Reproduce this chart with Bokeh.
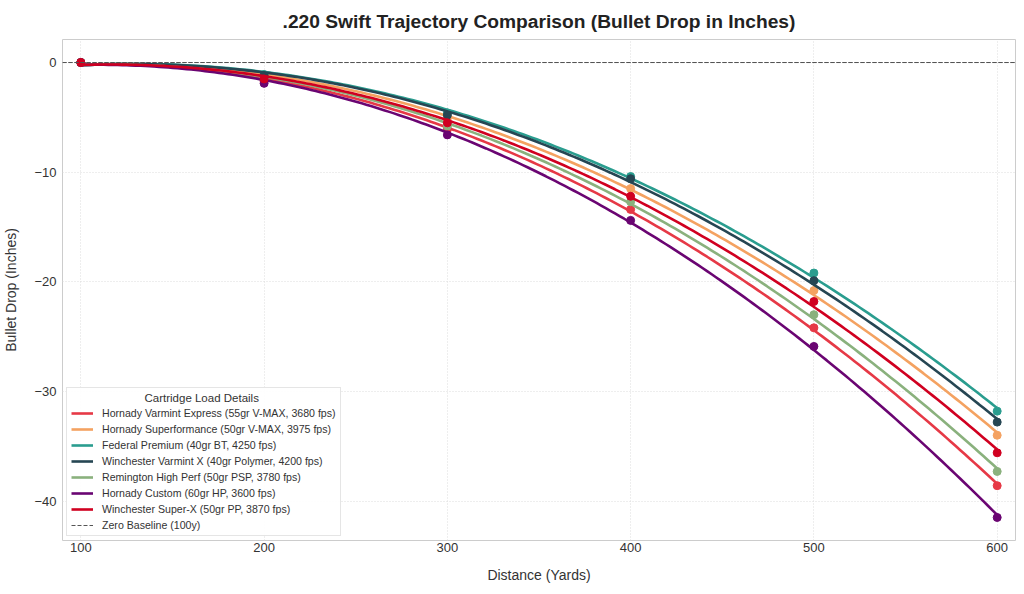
import numpy as np
from bokeh.plotting import figure
from bokeh.models import Range1d, Span, Legend, LegendItem, CustomJSTickFormatter, FixedTicker
from bokeh.embed import file_html
from bokeh.resources import INLINE

# ---- data ----
distances = [100, 200, 300, 400, 500, 600]
loads = [
    "Hornady Varmint Express (55gr V-MAX, 3680 fps)",
    "Hornady Superformance (50gr V-MAX, 3975 fps)",
    "Federal Premium (40gr BT, 4250 fps)",
    "Winchester Varmint X (40gr Polymer, 4200 fps)",
    "Remington High Perf (50gr PSP, 3780 fps)",
    "Hornady Custom (60gr HP, 3600 fps)",
    "Winchester Super-X (50gr PP, 3870 fps)",
]
drop_varmint_express = [0, -1.7, -6.1, -13.4, -24.2, -38.6]
drop_superformance = [0, -1.3, -5.1, -11.5, -20.8, -34.0]
drop_federal = [0, -1.1, -4.6, -10.4, -19.2, -31.8]
drop_varmint_x = [0, -1.2, -4.8, -10.6, -19.9, -32.8]
drop_remington = [0, -1.6, -5.8, -12.7, -23.0, -37.3]
drop_custom = [0, -1.9, -6.6, -14.4, -25.9, -41.5]
drop_super_x = [0, -1.5, -5.5, -12.2, -21.8, -35.6]
series = [drop_varmint_express, drop_superformance, drop_federal, drop_varmint_x,
          drop_remington, drop_custom, drop_super_x]
colors = ["#e63946", "#f4a261", "#2a9d8f", "#264653", "#8ab17d", "#6a0572", "#d00020"]
x_ticks = [100, 200, 300, 400, 500, 600]
y_ticks = [0, -10, -20, -30, -40]
x_lim = [90, 610]
y_lim = [-43.6, 2.1]
baseline_level = 0

FONT = "Liberation Sans"

p = figure(frame_width=953, frame_height=501, output_backend="svg", toolbar_location=None,
           x_range=Range1d(*x_lim), y_range=Range1d(*y_lim),
           min_border_left=54, min_border_right=1, min_border_top=32, min_border_bottom=44,
           background_fill_color="white", border_fill_color="white")

p.title.text = ".220 Swift Trajectory Comparison (Bullet Drop in Inches)"
p.title.text_font = FONT
p.title.text_font_size = "19.2px"
p.title.text_font_style = "bold"
p.title.text_color = "#222222"
p.title.align = "center"
p.title.offset = 0
p.title.standoff = 16

p.outline_line_color = "#cccccc"
p.outline_line_width = 1

for ax in (p.xaxis[0], p.yaxis[0]):
    ax.axis_line_color = None
    ax.major_tick_line_color = None
    ax.minor_tick_line_color = None
    ax.major_tick_out = 0
    ax.major_tick_in = 0
    ax.minor_tick_out = 0
    ax.minor_tick_in = 0
    ax.major_label_text_font = FONT
    ax.major_label_text_font_size = "13px"
    ax.major_label_text_color = "#333333"
    ax.axis_label_text_font = FONT
    ax.axis_label_text_font_size = "14px"
    ax.axis_label_text_font_style = "normal"
    ax.axis_label_text_color = "#333333"

p.xaxis.ticker = FixedTicker(ticks=x_ticks)
p.yaxis.ticker = FixedTicker(ticks=y_ticks)
p.yaxis.formatter = CustomJSTickFormatter(code="return tick < 0 ? '\u2212' + Math.abs(tick) : tick.toString();")
p.xaxis.axis_label = "Distance (Yards)"
p.yaxis.axis_label = "Bullet Drop (Inches)"
p.xaxis.major_label_standoff = 2
p.yaxis.major_label_standoff = 6
p.xaxis.axis_label_standoff = 12
p.yaxis.axis_label_standoff = 12

for g in (p.xgrid[0], p.ygrid[0]):
    g.grid_line_color = "#dddddd"
    g.grid_line_dash = "1 2"
    g.grid_line_width = 1

items = []
xs = np.array(distances, dtype=float)
xfine = np.linspace(xs.min(), xs.max(), 200)
for name, ys, c in zip(loads, series, colors):
    coef = np.polyfit(xs, np.array(ys, dtype=float), 2)
    yfit = np.polyval(coef, xfine)
    r = p.line(xfine, yfit, line_color=c, line_width=2.6)
    p.scatter(distances, ys, size=8, fill_color=c, line_color=c)
    items.append(LegendItem(label=name, renderers=[r]))

zero = Span(location=baseline_level, dimension="width", line_color="#555555",
            line_dash="4 2", line_width=1)
p.add_layout(zero)
rz = p.line(x_lim, [baseline_level, baseline_level], line_color="#555555",
            line_dash="4 2", line_width=1)
items.append(LegendItem(label="Zero Baseline (100y)", renderers=[rz]))

legend = Legend(items=items, location="bottom_left",
                title="\u00a0" * 23 + "Cartridge Load Details")
legend.title_text_font = FONT
legend.title_text_font_size = "11.5px"
legend.title_text_font_style = "normal"
legend.title_text_color = "#333333"
legend.title_standoff = 3
legend.label_text_font = FONT
legend.label_text_font_size = "10.6px"
legend.label_text_color = "#333333"
legend.label_height = 12
legend.glyph_height = 12
legend.glyph_width = 22
legend.spacing = 4
legend.padding = 4
legend.margin = 4
legend.label_standoff = 9
legend.border_line_color = "#cccccc"
legend.background_fill_alpha = 0.9
p.add_layout(legend)

open("out.html", "w").write(file_html(p, INLINE))
